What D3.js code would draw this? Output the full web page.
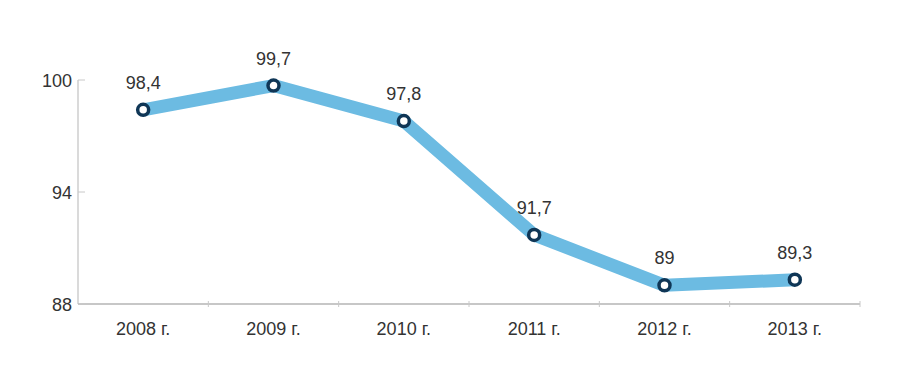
<!DOCTYPE html>
<html>
<head>
<meta charset="utf-8">
<script src="https://cdn.jsdelivr.net/npm/d3@7"></script>
<style>
  body { margin: 0; background: #fff; }
  svg text { font-family: "Liberation Sans", Arial, sans-serif; }
</style>
</head>
<body>
<svg id="chart" width="899" height="366"></svg>
<script>
// Data
const years = ['2008 г.', '2009 г.', '2010 г.', '2011 г.', '2012 г.', '2013 г.'];
const values = [98.4, 99.7, 97.8, 91.7, 89, 89.3];
const yTicks = [88, 94, 100];

const margin = { top: 80, right: 39, bottom: 62, left: 78 };
const width = 899 - margin.left - margin.right;
const height = 366 - margin.top - margin.bottom;

const svg = d3.select('#chart');
const g = svg.append('g').attr('transform', `translate(${margin.left},${margin.top})`);

const x = d3.scaleBand().domain(years).range([0, width]);
const y = d3.scaleLinear().domain([88, 100]).range([height, 0]);

// Axes
g.append('line')
  .attr('x1', 0).attr('x2', 0).attr('y1', 0).attr('y2', height)
  .attr('stroke', '#b5b5b5').attr('stroke-width', 1);
g.append('line')
  .attr('x1', 0).attr('x2', width).attr('y1', height).attr('y2', height)
  .attr('stroke', '#b5b5b5').attr('stroke-width', 1.5);

g.selectAll('.ytick').data(yTicks).enter().append('line')
  .attr('x1', 0).attr('x2', 7)
  .attr('y1', d => y(d)).attr('y2', d => y(d))
  .attr('stroke', '#c8c8c8');

g.selectAll('.ylabel').data(yTicks).enter().append('text')
  .attr('x', -6).attr('y', d => y(d) + 7)
  .attr('text-anchor', 'end')
  .attr('font-size', 18).attr('fill', '#333')
  .text(d => d);

g.selectAll('.xtick').data(years).enter().append('line')
  .attr('x1', (d, i) => x.step() * (i + 1)).attr('x2', (d, i) => x.step() * (i + 1))
  .attr('y1', height - 3).attr('y2', height + 3)
  .attr('stroke', '#c8c8c8');

g.selectAll('.xlabel').data(years).enter().append('text')
  .attr('x', d => x(d) + x.bandwidth() / 2)
  .attr('y', height + 31)
  .attr('text-anchor', 'middle')
  .attr('font-size', 18).attr('fill', '#333')
  .text(d => d);

// Line
const line = d3.line()
  .x((d, i) => x(years[i]) + x.bandwidth() / 2)
  .y(d => y(d));

g.append('path')
  .datum(values)
  .attr('d', line)
  .attr('fill', 'none')
  .attr('stroke', '#6cbbe2')
  .attr('stroke-width', 13)
  .attr('stroke-linejoin', 'round');

g.selectAll('.dot').data(values).enter().append('circle')
  .attr('cx', (d, i) => x(years[i]) + x.bandwidth() / 2)
  .attr('cy', d => y(d))
  .attr('r', 5.5)
  .attr('fill', '#fff')
  .attr('stroke', '#0f3656')
  .attr('stroke-width', 3.5);

g.selectAll('.vlabel').data(values).enter().append('text')
  .attr('x', (d, i) => x(years[i]) + x.bandwidth() / 2)
  .attr('y', d => y(d) - 21)
  .attr('text-anchor', 'middle')
  .attr('font-size', 18).attr('fill', '#333')
  .text(d => String(d).replace('.', ','));
</script>
</body>
</html>
